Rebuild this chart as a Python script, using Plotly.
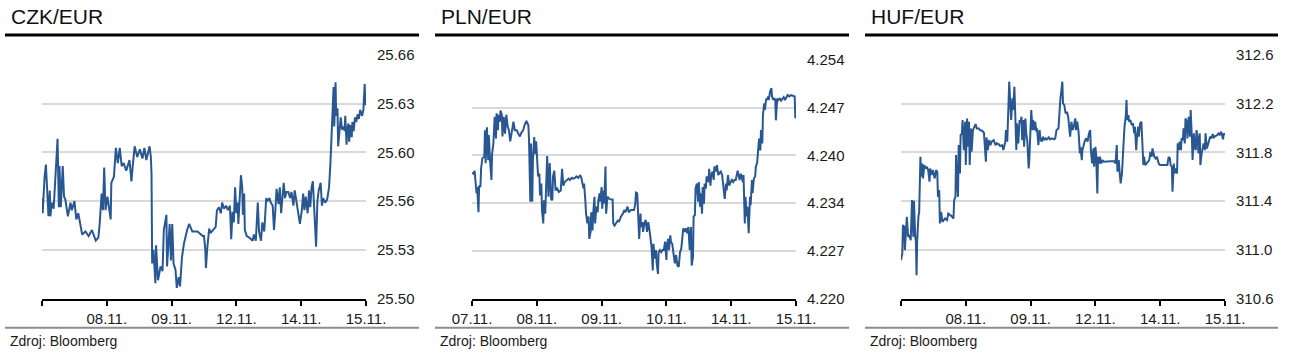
import plotly.graph_objects as go

# ---------------- data (time in 1/100 of a trading-day slot, value) ----------------
czk_series = [
    (0, 25.566), (1, 25.556), (4, 25.580), (6, 25.588), (10, 25.554), (12, 25.571), (13, 25.554), (15, 25.563),
    (18, 25.559), (20, 25.576), (22, 25.591), (24, 25.605), (26, 25.560), (27, 25.587), (29, 25.560), (32, 25.587),
    (34, 25.567), (36, 25.565), (40, 25.554), (44, 25.563), (46, 25.558), (50, 25.564), (53, 25.552), (56, 25.556),
    (59, 25.549), (62, 25.542), (67, 25.544), (72, 25.541), (77, 25.545), (83, 25.538), (87, 25.540), (89, 25.549),
    (92, 25.569), (94, 25.558), (96, 25.586), (98, 25.558), (101, 25.567), (106, 25.552), (107, 25.576), (111, 25.580),
    (114, 25.599), (117, 25.589), (120, 25.599), (123, 25.587), (126, 25.589), (130, 25.584), (135, 25.591), (138, 25.577),
    (140, 25.587), (143, 25.600), (147, 25.593), (151, 25.598), (155, 25.592), (158, 25.599), (161, 25.591), (166, 25.600),
    (168, 25.593), (169, 25.582), (170, 25.523), (172, 25.532), (175, 25.510), (176, 25.535), (179, 25.512), (183, 25.521),
    (186, 25.518), (188, 25.545), (192, 25.555), (193, 25.521), (197, 25.549), (199, 25.525), (201, 25.549), (203, 25.523),
    (206, 25.519), (208, 25.507), (211, 25.514), (213, 25.508), (216, 25.527), (219, 25.536), (224, 25.545), (227, 25.549),
    (232, 25.544), (240, 25.544), (248, 25.541),
    (250, 25.541), (252, 25.532), (253, 25.520), (255, 25.533), (258, 25.546), (260, 25.543), (264, 25.545), (268, 25.547),
    (270, 25.558), (273, 25.560), (276, 25.556), (278, 25.563), (281, 25.559), (284, 25.561), (287, 25.558), (290, 25.561),
    (292, 25.539), (294, 25.557), (296, 25.550), (298, 25.573), (300, 25.556), (302, 25.563), (303, 25.549), (305, 25.567),
    (307, 25.581), (309, 25.573), (310, 25.555), (312, 25.569), (313, 25.545), (316, 25.541), (320, 25.540), (325, 25.538),
    (327, 25.542), (330, 25.538), (333, 25.563), (335, 25.544), (338, 25.538), (340, 25.550), (343, 25.544), (346, 25.566),
    (348, 25.564), (351, 25.566), (353, 25.563), (356, 25.561), (358, 25.545), (360, 25.557), (362, 25.572), (365, 25.562),
    (367, 25.573), (369, 25.556), (371, 25.564), (373, 25.576), (375, 25.566), (377, 25.570), (380, 25.570), (383, 25.566),
    (385, 25.570), (388, 25.561), (390, 25.571), (393, 25.563), (396, 25.556), (398, 25.549), (401, 25.558), (403, 25.569),
    (405, 25.558), (407, 25.567), (410, 25.556), (412, 25.571), (414, 25.560), (416, 25.573), (418, 25.577), (420, 25.557),
    (423, 25.534), (425, 25.564), (427, 25.571), (430, 25.576), (432, 25.561), (434, 25.566), (437, 25.563), (440, 25.565),
    (442, 25.569), (443, 25.573), (445, 25.588), (447, 25.610), (449, 25.633), (450, 25.639), (451, 25.613), (453, 25.642),
    (454, 25.620), (456, 25.625), (457, 25.600), (459, 25.612), (461, 25.619), (463, 25.611), (465, 25.613), (467, 25.610),
    (468, 25.620), (470, 25.601), (471, 25.611), (473, 25.615), (474, 25.603), (476, 25.614), (478, 25.606), (479, 25.616),
    (481, 25.610), (483, 25.619), (485, 25.616), (487, 25.621), (489, 25.618), (491, 25.624), (494, 25.620), (496, 25.624),
    (498, 25.641), (499, 25.627), (500, 25.633),
]

pln_series = [
    (0, 4.2379), (2, 4.2378), (4, 4.2382), (7, 4.2350), (8, 4.2359), (10, 4.2323), (11, 4.2361), (13, 4.2359),
    (14, 4.2385), (16, 4.2400), (19, 4.2402), (20, 4.2440), (21, 4.2393), (23, 4.2444), (25, 4.2397), (26, 4.2433),
    (28, 4.2395), (30, 4.2369), (31, 4.2406), (33, 4.2421), (35, 4.2459), (37, 4.2428), (38, 4.2464), (40, 4.2440),
    (41, 4.2462), (43, 4.2452), (44, 4.2468), (46, 4.2462), (47, 4.2431), (49, 4.2459), (51, 4.2435), (53, 4.2462),
    (55, 4.2445), (57, 4.2440), (59, 4.2424), (61, 4.2438), (64, 4.2452), (66, 4.2440), (69, 4.2440), (71, 4.2436),
    (74, 4.2431), (76, 4.2436), (79, 4.2440), (81, 4.2447), (84, 4.2453), (87, 4.2447), (88, 4.2426), (90, 4.2338),
    (91, 4.2421), (93, 4.2338), (94, 4.2397), (96, 4.2430), (97, 4.2406), (99, 4.2424), (101, 4.2397), (102, 4.2374),
    (104, 4.2378), (105, 4.2347), (107, 4.2364), (108, 4.2326), (110, 4.2307), (111, 4.2340), (113, 4.2321), (114, 4.2354),
    (116, 4.2403), (118, 4.2345), (120, 4.2393), (122, 4.2342), (124, 4.2340), (125, 4.2374), (127, 4.2382), (129, 4.2354),
    (131, 4.2358), (134, 4.2352), (137, 4.2354), (139, 4.2385), (141, 4.2361), (143, 4.2366), (146, 4.2369), (149, 4.2371),
    (151, 4.2369), (154, 4.2372), (156, 4.2371), (159, 4.2372), (161, 4.2374), (164, 4.2372), (167, 4.2376), (169, 4.2371),
    (172, 4.2357), (173, 4.2364), (175, 4.2338), (176, 4.2321), (178, 4.2307), (180, 4.2317), (181, 4.2285), (183, 4.2295),
    (184, 4.2323), (186, 4.2297), (187, 4.2321), (189, 4.2345), (190, 4.2307), (192, 4.2331), (194, 4.2323), (195, 4.2340),
    (197, 4.2350), (198, 4.2338), (200, 4.2359), (201, 4.2328), (203, 4.2354), (204, 4.2335), (206, 4.2388), (207, 4.2321),
    (209, 4.2345), (212, 4.2342), (215, 4.2341), (217, 4.2341), (218, 4.2307), (220, 4.2304), (222, 4.2307), (225, 4.2311),
    (227, 4.2310), (230, 4.2317), (233, 4.2321), (235, 4.2326), (237, 4.2323), (240, 4.2331), (242, 4.2323), (245, 4.2326),
    (248, 4.2326),
    (250, 4.2326), (252, 4.2335), (253, 4.2351), (255, 4.2350), (257, 4.2305), (258, 4.2285), (260, 4.2321), (261, 4.2302),
    (263, 4.2309), (264, 4.2295), (266, 4.2307), (268, 4.2312), (270, 4.2295), (272, 4.2309), (274, 4.2297), (276, 4.2283),
    (277, 4.2274), (279, 4.2240), (280, 4.2278), (282, 4.2257), (284, 4.2269), (285, 4.2250), (287, 4.2235), (288, 4.2266),
    (290, 4.2269), (292, 4.2266), (294, 4.2269), (296, 4.2269), (298, 4.2281), (300, 4.2255), (301, 4.2278), (303, 4.2285),
    (304, 4.2269), (306, 4.2290), (307, 4.2281), (309, 4.2278), (310, 4.2271), (312, 4.2264), (313, 4.2250), (315, 4.2262),
    (317, 4.2247), (319, 4.2245), (321, 4.2266), (323, 4.2271), (324, 4.2283), (326, 4.2300), (328, 4.2295), (330, 4.2300),
    (332, 4.2293), (334, 4.2302), (336, 4.2269), (338, 4.2302), (339, 4.2247), (341, 4.2259), (342, 4.2317), (344, 4.2319),
    (345, 4.2357), (347, 4.2364), (349, 4.2338), (350, 4.2366), (352, 4.2331), (353, 4.2350), (355, 4.2321), (356, 4.2359),
    (358, 4.2335), (359, 4.2364), (361, 4.2357), (362, 4.2374), (365, 4.2366), (366, 4.2385), (368, 4.2361), (369, 4.2374),
    (371, 4.2381), (373, 4.2369), (374, 4.2388), (376, 4.2381), (378, 4.2390), (380, 4.2376), (382, 4.2379), (384, 4.2381),
    (386, 4.2376), (388, 4.2359), (390, 4.2342), (392, 4.2364), (393, 4.2354), (395, 4.2376), (397, 4.2361), (399, 4.2366),
    (401, 4.2369), (403, 4.2366), (405, 4.2369), (407, 4.2369), (410, 4.2382), (413, 4.2369), (415, 4.2378), (418, 4.2366),
    (419, 4.2376), (421, 4.2307), (422, 4.2345), (424, 4.2317), (425, 4.2331), (427, 4.2293), (429, 4.2345), (430, 4.2333),
    (432, 4.2369), (433, 4.2350), (435, 4.2371), (437, 4.2374), (438, 4.2388), (440, 4.2393), (442, 4.2411), (443, 4.2428),
    (445, 4.2411), (446, 4.2440), (448, 4.2421), (449, 4.2462), (451, 4.2478), (452, 4.2469), (454, 4.2485), (455, 4.2483),
    (457, 4.2488), (458, 4.2483), (460, 4.2495), (462, 4.2500), (463, 4.2488), (465, 4.2483), (466, 4.2485), (468, 4.2484),
    (469, 4.2454), (471, 4.2485), (473, 4.2483), (475, 4.2485), (477, 4.2482), (479, 4.2484), (481, 4.2487), (483, 4.2483),
    (485, 4.2488), (487, 4.2490), (490, 4.2488), (492, 4.2490), (495, 4.2489), (498, 4.2488), (499, 4.2457), (500, 4.2467),
]

huf_series = [
    (0, 310.915), (2, 310.970), (3, 311.203), (5, 311.189), (6, 310.997), (8, 311.161), (9, 311.271), (11, 311.107),
    (13, 311.120), (15, 311.079), (17, 311.408), (19, 311.107), (20, 311.403), (22, 311.107), (23, 311.066), (24, 310.792),
    (25, 311.079), (27, 311.285), (28, 311.298), (30, 311.764), (31, 311.600), (33, 311.709), (34, 311.586), (36, 311.696),
    (38, 311.668), (40, 311.682), (42, 311.655), (44, 311.559), (45, 311.668), (47, 311.614), (49, 311.655), (52, 311.586),
    (54, 311.655), (56, 311.641), (57, 311.435), (59, 311.490), (60, 311.216), (62, 311.312), (64, 311.230), (66, 311.244),
    (68, 311.257), (71, 311.244), (73, 311.298), (76, 311.285), (78, 311.277), (81, 311.257), (82, 311.408), (84, 311.435),
    (85, 311.778), (86, 311.614), (88, 311.435), (89, 311.860), (91, 311.627), (92, 311.942), (94, 311.956), (95, 312.066),
    (97, 311.819), (99, 312.052), (100, 311.696), (102, 312.079), (103, 311.846), (105, 312.052), (106, 311.696), (108, 311.997),
    (109, 311.805), (111, 311.983), (113, 312.005), (115, 312.033), (117, 311.997), (120, 311.997), (122, 311.983), (125, 311.978),
    (128, 311.962), (129, 311.901), (131, 311.723), (132, 311.923), (134, 311.819), (136, 311.901), (138, 311.860), (140, 311.888),
    (143, 311.901), (146, 311.860), (148, 311.874), (151, 311.866), (153, 311.852), (156, 311.860), (158, 311.819), (161, 311.888),
    (162, 311.983), (164, 311.888), (166, 312.134), (167, 312.381), (169, 312.162), (170, 312.066), (172, 312.244), (173, 312.148),
    (175, 312.340), (176, 312.175), (178, 311.819), (179, 312.038), (181, 311.874), (183, 312.066), (184, 312.038), (186, 312.093),
    (187, 311.901), (189, 312.066), (190, 311.846), (192, 312.079), (193, 311.970), (195, 311.888), (197, 311.668), (198, 311.737),
    (200, 311.956), (201, 312.148), (203, 311.983), (204, 312.066), (206, 311.983), (207, 312.052), (209, 311.970), (210, 311.997),
    (212, 311.860), (214, 311.983), (215, 311.915), (217, 311.888), (219, 311.929), (221, 311.901), (223, 311.915), (225, 311.907),
    (228, 311.923), (230, 311.907), (233, 311.915), (236, 311.907), (238, 311.915), (240, 311.983), (243, 311.997), (244, 312.107),
    (246, 312.244), (247, 312.285), (249, 312.381), (250, 312.203),
    (252, 312.189), (254, 312.120), (256, 312.134), (258, 312.093), (260, 311.942), (261, 311.929), (263, 312.052), (265, 311.983),
    (267, 312.025), (269, 312.079), (270, 311.983), (272, 312.052), (274, 311.970), (276, 311.792), (277, 311.846), (279, 311.737),
    (280, 311.819), (282, 311.874), (284, 311.901), (286, 311.915), (288, 311.888), (290, 311.956), (292, 311.983), (293, 311.819),
    (295, 311.709), (297, 311.833), (298, 311.682), (300, 311.846), (301, 311.792), (303, 311.463), (304, 311.764), (306, 311.709),
    (307, 311.764), (309, 311.709), (311, 311.737), (313, 311.723), (316, 311.723), (319, 311.729), (321, 311.723), (324, 311.729),
    (326, 311.723), (329, 311.729), (331, 311.709), (333, 311.860), (334, 311.641), (336, 311.737), (338, 311.600), (339, 311.545),
    (341, 311.627), (342, 311.792), (344, 311.929), (345, 312.011), (347, 312.107), (348, 312.230), (349, 312.066), (351, 312.107),
    (352, 312.052), (354, 312.066), (356, 312.025), (358, 312.038), (360, 311.956), (361, 312.011), (363, 311.819), (364, 311.915),
    (366, 312.011), (367, 311.929), (369, 312.038), (371, 312.052), (372, 311.929), (374, 311.696), (375, 311.764), (377, 311.696),
    (379, 311.709), (381, 311.723), (383, 311.737), (385, 311.805), (387, 311.764), (388, 311.833), (390, 311.778), (391, 311.764),
    (393, 311.750), (395, 311.764), (398, 311.704), (400, 311.696), (403, 311.696), (406, 311.693), (408, 311.696), (411, 311.696),
    (413, 311.764), (415, 311.750), (416, 311.696), (418, 311.682), (419, 311.477), (421, 311.709), (422, 311.627), (424, 311.668),
    (426, 311.627), (427, 311.874), (429, 311.819), (430, 311.888), (432, 311.819), (433, 311.915), (435, 311.901), (436, 311.997),
    (438, 311.874), (439, 312.079), (441, 312.052), (442, 311.915), (444, 312.093), (446, 311.929), (447, 312.148), (449, 311.901),
    (450, 311.737), (452, 311.956), (453, 311.846), (455, 311.819), (456, 311.983), (458, 311.915), (459, 311.792), (461, 311.956),
    (462, 311.696), (464, 311.792), (465, 311.819), (467, 311.874), (469, 311.819), (470, 311.956), (472, 311.833), (473, 311.860),
    (475, 311.888), (477, 311.929), (479, 311.915), (481, 311.950), (483, 311.923), (485, 311.934), (488, 311.942), (490, 311.956),
    (492, 311.942), (494, 311.970), (495, 311.942), (497, 311.907), (498, 311.956), (500, 311.942),
]

x_tick_pos = [0, 100, 200, 300, 400, 500]
czk_x_labels = ["", "08.11.", "09.11.", "12.11.", "14.11.", "15.11."]
pln_x_labels = ["07.11.", "08.11.", "09.11.", "10.11.", "14.11.", "15.11."]
huf_x_labels = ["", "08.11.", "09.11.", "12.11.", "14.11.", "15.11."]

czk_y_ticks = [25.50, 25.532, 25.564, 25.596, 25.628, 25.66]
czk_y_labels = ["25.50", "25.53", "25.56", "25.60", "25.63", "25.66"]
pln_y_ticks = [4.220, 4.2268, 4.2336, 4.2404, 4.2472, 4.254]
pln_y_labels = ["4.220", "4.227", "4.234", "4.240", "4.247", "4.254"]
huf_y_ticks = [310.6, 311.0, 311.4, 311.8, 312.2, 312.6]
huf_y_labels = ["310.6", "311.0", "311.4", "311.8", "312.2", "312.6"]

titles = ["CZK/EUR", "PLN/EUR", "HUF/EUR"]
source_text = "Zdroj: Bloomberg"

# ---------------- layout helpers ----------------
W, H = 1289, 362
FONT = "Liberation Sans, Arial, Helvetica, sans-serif"
LINE_COLOR = "#285791"


def px(x):
    return x / W


def py(y):
    return 1 - y / H


panels = [
    dict(series=czk_series, xl=czk_x_labels, yt=czk_y_ticks, ytxt=czk_y_labels, off=0, top=55),
    dict(series=pln_series, xl=pln_x_labels, yt=pln_y_ticks, ytxt=pln_y_labels, off=430, top=60),
    dict(series=huf_series, xl=huf_x_labels, yt=huf_y_ticks, ytxt=huf_y_labels, off=860, top=55),
]
plot_left = [42, 472, 901]
plot_right = [366, 796, 1225]
line_right = [419, 849, 1278]

fig = go.Figure()
shapes = []
annotations = []
layout = {}
for i, p in enumerate(panels):
    n = "" if i == 0 else str(i + 1)
    t_vals = [a for a, _ in p["series"]]
    v_vals = [b for _, b in p["series"]]
    fig.add_trace(go.Scatter(
        x=t_vals, y=v_vals, mode="lines",
        line=dict(color=LINE_COLOR, width=2),
        xaxis="x" + n, yaxis="y" + n, showlegend=False, hoverinfo="skip",
    ))
    layout["xaxis" + n] = dict(
        domain=[px(plot_left[i]), px(plot_right[i])],
        anchor="y" + n, range=[0, 500], automargin=False,
        tickmode="array", tickvals=x_tick_pos, ticktext=p["xl"],
        showgrid=False, zeroline=False,
        showline=True, linecolor="#000000", linewidth=2,
        ticks="outside", ticklen=5, tickwidth=2, tickcolor="#000000",
        tickfont=dict(family=FONT, size=15, color="#1a1a1a"),
        fixedrange=True,
    )
    layout["yaxis" + n] = dict(
        domain=[py(298.5), py(p["top"])],
        anchor="x" + n, side="right", range=[p["yt"][0], p["yt"][-1]], automargin=False,
        tickmode="array", tickvals=p["yt"], ticktext=p["ytxt"],
        showgrid=True, gridcolor="#d9d9d9", gridwidth=1.5,
        zeroline=False, showline=False, ticks="",
        ticklabelstandoff=10,
        tickfont=dict(family=FONT, size=15, color="#1a1a1a"),
        fixedrange=True,
    )
    off = p["off"]
    shapes.append(dict(type="line", xref="paper", yref="paper",
                       x0=px(off + 5), x1=px(line_right[i]), y0=py(35), y1=py(35),
                       line=dict(color="#000000", width=3)))
    shapes.append(dict(type="line", xref="paper", yref="paper",
                       x0=px(off + 5), x1=px(line_right[i]), y0=py(327.7), y1=py(327.7),
                       line=dict(color="#8c8c8c", width=2)))
    annotations.append(dict(text=titles[i], xref="paper", yref="paper",
                            x=px(off + 9), y=py(16.5), xanchor="left", yanchor="middle",
                            showarrow=False, font=dict(family=FONT, size=21, color="#111111")))
    annotations.append(dict(text=source_text, xref="paper", yref="paper",
                            x=px(off + 8), y=py(341), xanchor="left", yanchor="middle",
                            showarrow=False, font=dict(family=FONT, size=14, color="#1a1a1a")))

fig.update_layout(
    width=W, height=H,
    margin=dict(l=0, r=0, t=0, b=0, pad=0, autoexpand=False),
    paper_bgcolor="#ffffff", plot_bgcolor="#ffffff",
    shapes=shapes, annotations=annotations,
    **layout,
)

# remove the default 8px page margin so the 1289x362 figure fills the window exactly
fig.write_html(
    "out.html",
    config={"displayModeBar": False},
    post_script="document.body.style.margin='0px';document.body.style.overflow='hidden';",
)
